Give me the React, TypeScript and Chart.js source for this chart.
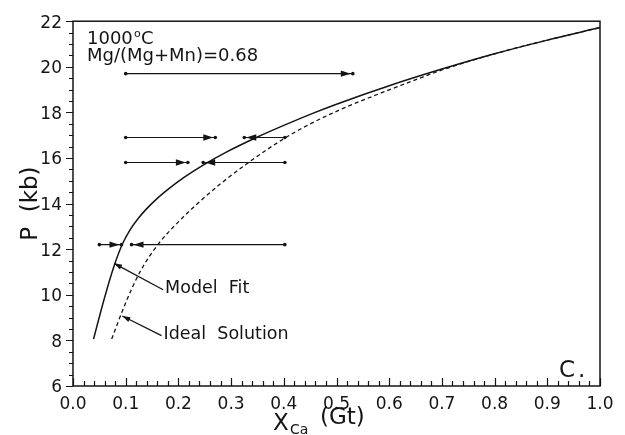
import React, { useEffect, useRef } from "react";
import { Chart, registerables } from "chart.js";

Chart.register(...registerables);

// Model-fit isotherm: pressure (kb) against X_Ca in garnet
const modelFitX = [0.039, 0.058, 0.077, 0.094, 0.108, 0.124, 0.14, 0.16, 0.185, 0.21, 0.247, 0.29, 0.349, 0.4, 0.456, 0.5, 0.6, 0.7, 0.8, 0.9, 1.0];
const modelFitP = [8.06, 9.72, 11.2, 12.24, 12.84, 13.36, 13.78, 14.23, 14.71, 15.14, 15.69, 16.25, 16.91, 17.43, 17.97, 18.36, 19.17, 19.9, 20.57, 21.17, 21.72];

// Ideal-solution isotherm
const idealX = [0.0734, 0.0987, 0.127, 0.161, 0.2, 0.24, 0.28, 0.33, 0.38, 0.43, 0.507, 0.6, 0.652, 0.7, 0.8, 0.9, 1.0];
const idealP = [8.06, 9.58, 11.0, 12.2, 13.2, 14.08, 14.87, 15.75, 16.55, 17.25, 18.12, 18.99, 19.45, 19.86, 20.57, 21.17, 21.72];

// Reversal brackets: pressure, starting composition, final composition
const bracketP = [19.7, 16.9, 16.9, 15.8, 15.8, 12.2, 12.2];
const bracketFrom = [0.1, 0.1, 0.402, 0.1, 0.402, 0.05, 0.402];
const bracketTo = [0.531, 0.27, 0.325, 0.218, 0.247, 0.092, 0.111];

// Curve labels with leader lines (tail -> tip)
const leaderText = ["Model  Fit", "Ideal  Solution"];
const leaderTailX = [0.171, 0.168];
const leaderTailP = [10.22, 8.21];
const leaderTipX = [0.078, 0.0936];
const leaderTipP = [11.38, 9.07];

// Axis ranges
const xMin = 0, xMax = 1, xStep = 0.1;
const yMin = 6, yMax = 22, yStep = 2;

const INK = "#141414";
const FONT = "'DejaVu Sans', sans-serif";

const pts = (xs: number[], ys: number[]) => xs.map((x, i) => ({ x, y: ys[i] }));

function drawHead(ctx: CanvasRenderingContext2D, tx: number, ty: number, fx: number, fy: number, len: number, half: number) {
  const a = Math.atan2(ty - fy, tx - fx);
  const c = Math.cos(a), s = Math.sin(a);
  ctx.beginPath();
  ctx.moveTo(tx, ty);
  ctx.lineTo(tx - len * c + half * s, ty - len * s - half * c);
  ctx.lineTo(tx - len * c - half * s, ty - len * s + half * c);
  ctx.closePath();
  ctx.fill();
}

function put(ctx: CanvasRenderingContext2D, s: string, x: number, y: number, size: number, spacing = 0) {
  ctx.font = `${size}px ${FONT}`;
  (ctx as any).letterSpacing = `${spacing}px`;
  ctx.fillText(s, x, y);
  (ctx as any).letterSpacing = "0px";
}

const decor = {
  id: "decor",
  afterDatasetsDraw(chart: any) {
    const { ctx } = chart;
    ctx.save();
    ctx.fillStyle = INK;
    chart.data.datasets.forEach((ds: any, i: number) => {
      if (!ds.arrow) return;
      const [p0, p1] = chart.getDatasetMeta(i).data;
      if (ds.arrow === "bracket") {
        const d = Math.sign(p1.x - p0.x);
        drawHead(ctx, p1.x - d * 2, p1.y, p0.x, p0.y, 10, 3.2);
      } else {
        drawHead(ctx, p1.x, p1.y, p0.x, p0.y, 8, 2.6);
        ctx.textAlign = "left";
        ctx.textBaseline = "alphabetic";
        put(ctx, ds.label, p0.x + 2, p0.y + 3, 17.5);
      }
    });
    ctx.restore();
  },
  afterDraw(chart: any) {
    const { ctx, chartArea: a, scales } = chart;
    const xs = scales.x, ys = scales.y;
    ctx.save();
    ctx.strokeStyle = INK;
    ctx.fillStyle = INK;

    // frame
    ctx.lineWidth = 1.5;
    ctx.strokeRect(a.left, a.top, a.right - a.left, a.bottom - a.top);

    // y ticks (outside, majors every 2, minors every 0.5)
    ctx.lineWidth = 1.2;
    ctx.beginPath();
    for (let k = 0; k <= (yMax - yMin) * 2; k++) {
      const v = yMin + k * 0.5;
      const py = Math.round(ys.getPixelForValue(v)) + 0.5;
      const len = k % 4 === 0 ? 7 : 4;
      ctx.moveTo(a.left - len, py);
      ctx.lineTo(a.left, py);
    }
    // x ticks (inside, majors every 0.1, minors every 0.02)
    for (let k = 0; k <= 50; k++) {
      const px = Math.round(xs.getPixelForValue(k * 0.02)) + 0.5;
      const len = k % 5 === 0 ? 8 : 5;
      ctx.moveTo(px, a.bottom);
      ctx.lineTo(px, a.bottom - len);
    }
    ctx.stroke();

    ctx.textAlign = "left";
    ctx.textBaseline = "alphabetic";

    // conditions
    put(ctx, "1000", a.left + 14, a.top + 23, 18);
    put(ctx, "o", a.left + 61, a.top + 16, 11);
    put(ctx, "C", a.left + 68, a.top + 23, 18);
    put(ctx, "Mg/(Mg+Mn)=0.68", a.left + 14, a.top + 40, 18);

    // panel letter
    put(ctx, "C.", a.right - 41, a.bottom - 9, 23, 3);

    // x-axis title
    put(ctx, "X", a.left + 200, 430, 23);
    put(ctx, "Ca", a.left + 217, 434, 14);
    put(ctx, "(Gt)", a.left + 247, 424, 23);

    // y-axis title
    ctx.translate(37, (a.top + a.bottom) / 2);
    ctx.rotate(-Math.PI / 2);
    ctx.textAlign = "center";
    put(ctx, "P  (kb)", 0, 0, 23);
    ctx.restore();
  },
};

export default function App() {
  const ref = useRef<HTMLCanvasElement>(null);

  useEffect(() => {
    const line = { borderColor: INK, showLine: true, pointRadius: 0, fill: false };
    const datasets: any[] = [
      { ...line, label: "Model Fit", data: pts(modelFitX, modelFitP), borderWidth: 1.5, cubicInterpolationMode: "monotone" },
      { ...line, label: "Ideal Solution", data: pts(idealX, idealP), borderWidth: 1.3, borderDash: [4, 3], cubicInterpolationMode: "monotone" },
    ];
    bracketP.forEach((p, i) => {
      datasets.push({
        ...line,
        label: `bracket ${i + 1}`,
        arrow: "bracket",
        data: [{ x: bracketFrom[i], y: p }, { x: bracketTo[i], y: p }],
        borderWidth: 1.1,
        pointRadius: 1.8,
        pointBackgroundColor: INK,
        pointBorderWidth: 0,
      });
    });
    leaderText.forEach((t, i) => {
      datasets.push({
        ...line,
        label: t,
        arrow: "leader",
        data: [{ x: leaderTailX[i], y: leaderTailP[i] }, { x: leaderTipX[i], y: leaderTipP[i] }],
        borderWidth: 1.3,
      });
    });

    const chart = new Chart(ref.current!, {
      type: "scatter",
      data: { datasets },
      plugins: [decor],
      options: {
        animation: false,
        responsive: false,
        devicePixelRatio: 1,
        layout: { padding: { top: 16, right: 25, left: 0, bottom: 0 } },
        plugins: { legend: { display: false }, tooltip: { enabled: false } },
        scales: {
          x: {
            type: "linear",
            min: xMin,
            max: xMax,
            grid: { display: false, drawTicks: false },
            border: { display: false },
            ticks: {
              stepSize: xStep,
              color: INK,
              padding: 8,
              font: { family: FONT, size: 17 },
              callback: (v: any) => Number(v).toFixed(1),
            },
            afterFit: (s: any) => { s.height = 49; },
          },
          y: {
            type: "linear",
            min: yMin,
            max: yMax,
            grid: { display: false, drawTicks: false },
            border: { display: false },
            ticks: {
              stepSize: yStep,
              color: INK,
              padding: 11,
              labelOffset: 2,
              font: { family: FONT, size: 17 },
            },
            afterFit: (s: any) => { s.width = 73; },
          },
        },
      } as any,
    });
    return () => chart.destroy();
  }, []);

  return (
    <div style={{ position: "fixed", left: 0, top: 0, width: 625, height: 435, background: "#fff" }}>
      <canvas ref={ref} width={625} height={435} style={{ display: "block" }} />
    </div>
  );
}
